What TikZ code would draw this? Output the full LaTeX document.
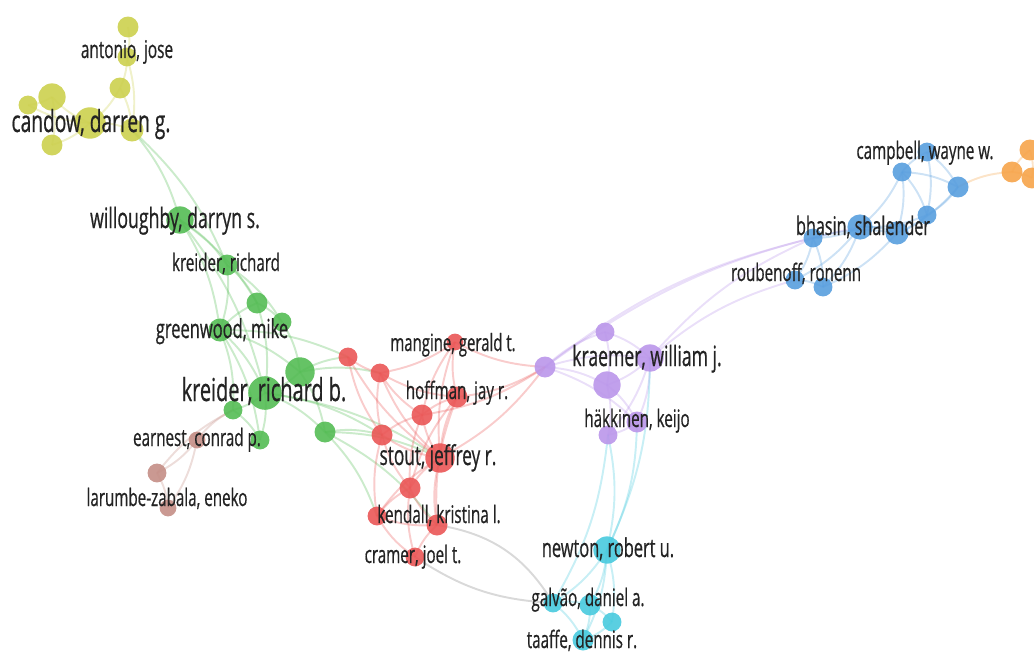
\documentclass[tikz,border=0pt]{standalone}
\usepackage{fontspec}
\setmainfont{Open Sans}[FakeStretch=0.63,FakeBold=0.6]
\usetikzlibrary{backgrounds}

\definecolor{cyel}{RGB}{204,208,78}
\definecolor{cgreen}{RGB}{84,188,84}
\definecolor{cbrown}{RGB}{196,142,134}
\definecolor{cred}{RGB}{234,86,86}
\definecolor{cpurp}{RGB}{186,150,234}
\definecolor{ccyan}{RGB}{72,202,222}
\definecolor{cblue}{RGB}{88,158,222}
\definecolor{corange}{RGB}{246,164,74}
\definecolor{ctext}{RGB}{35,35,35}

\tikzset{author/.style={circle,inner sep=0pt,minimum size=#1*0.42mm,fill opacity=0.9},
         link/.style={line width=1.1pt,draw opacity=0.3},
         lab/.style={font=\fontsize{#1}{#1}\selectfont,text=ctext,inner sep=0pt,anchor=base}}

\begin{document}
\begin{tikzpicture}[x=0.02cm,y=-0.02cm]
  \useasboundingbox (0,0) rectangle (1034,652);
  % authors: name/x/y/radius/colour
  \foreach \n/\x/\y/\r/\c in {ya/128/27/10/cyel,yb/127/57/9/cyel,yc/120/88/10/cyel,yd/52/97/13/cyel,
      ye/28/105/9/cyel,yf/90/123/15/cyel,yg/132/130/11/cyel,yh/52/145/10/cyel,
      wi/180/220/13/cgreen,kr/227/265/10/cgreen,ga/257/303/10/cgreen,gb/282/322/9/cgreen,
      gw/220/330/11/cgreen,gc/300/372/14/cgreen,kb/265/393/16/cgreen,gd/233/410/9/cgreen,
      ge/260/440/9/cgreen,gf/325/432/10/cgreen,
      ba/197/440/8/cbrown,bb/157/473/9/cbrown,bc/168/508/8/cbrown,
      ra/348/357/9/cred,rb/380/373/9/cred,mg/455/342/8/cred,hf/457/397/10/cred,rc/422/415/10/cred,
      rd/382/435/10/cred,st/440/458/14/cred,re/410/488/10/cred,rf/377/516/9/cred,
      kd/437/525/10/cred,cr/415/557/9/cred,
      pa/545/367/10/cpurp,pb/605/332/9/cpurp,kw/650/358/13/cpurp,pc/607/385/13/cpurp,
      hk/637/422/10/cpurp,pd/608/435/9/cpurp,
      nw/607/550/13/ccyan,ca/553/603/9/ccyan,gv/590/605/10/ccyan,cb/612/622/9/ccyan,tf/583/640/10/ccyan,
      ua/902/172/9/cblue,ub/927/152/9/cblue,uc/958/187/10/cblue,ud/927/215/9/cblue,
      bh/860/227/12/cblue,ue/897/233/11/cblue,uf/813/238/9/cblue,rn/795/280/9/cblue,ug/823/287/9/cblue,
      oa/1012/172/10/corange,ob/1030/150/10/corange,oc/1032/178/10/corange}
    \node[author=\r,fill=\c] (\n) at (\x,\y) {};

  \begin{scope}[on background layer]
    % co-authorship links
    \foreach \a/\b/\c in {ya/yb/cyel,yb/yc/cyel,yc/yf/cyel,yc/yg/cyel,yf/yd/cyel,yf/ye/cyel,yf/yh/cyel,
        yf/yg/cyel,yd/ye/cyel,yd/yh/cyel,yb/yg/cyel,yg/wi/cgreen,yg/kr/cgreen,
        wi/kr/cgreen,wi/ga/cgreen,wi/kb/cgreen,kr/ga/cgreen,kr/gw/cgreen,kr/gb/cgreen,ga/gb/cgreen,
        ga/kb/cgreen,gw/kb/cgreen,gw/gc/cgreen,gw/gd/cgreen,gw/ge/cgreen,gw/ga/cgreen,gb/gc/cgreen,
        gc/kb/cgreen,kb/gd/cgreen,kb/ge/cgreen,kb/gf/cgreen,gc/gf/cgreen,gd/ge/cgreen,wi/gw/cgreen,
        gc/ra/cgreen,gc/rb/cgreen,kb/rd/cgreen,gf/rd/cgreen,gf/st/cgreen,kb/st/cgreen,gw/ra/cgreen,
        gf/rf/cgreen,gf/kd/cgreen,
        ba/bb/cbrown,bb/bc/cbrown,ba/bc/cbrown,ba/gd/cbrown,bb/gd/cbrown}
      \draw[link,\c] (\a.center) to[bend left=12] (\b.center);
    \foreach \a/\b in {ra/rb,ra/st,rb/rd,rb/mg,rb/hf,rb/rc,rb/st,mg/hf,mg/rc,mg/st,hf/rc,hf/st,hf/re,
        rc/rd,rc/st,rc/re,rd/st,rd/re,rd/rf,st/re,st/kd,st/rf,re/rf,re/kd,re/cr,rf/kd,rf/cr,kd/cr,
        hf/kd,ra/rd,mg/pa,hf/pa,rc/pa,st/pa}
      \draw[link,cred] (\a.center) to[bend right=12] (\b.center);
    \draw[link,gray] (kd.center) to[bend left=25] (ca.center);
    \draw[link,gray] (cr.center) to[bend right=15] (ca.center);
    \foreach \a/\b/\c in {pa/pb/cpurp,pa/kw/cpurp,pa/pc/cpurp,pa/hk/cpurp,pb/kw/cpurp,pb/pc/cpurp,
        kw/pc/cpurp,kw/hk/cpurp,pc/pd/cpurp,pc/hk/cpurp,hk/pd/cpurp,kw/pd/cpurp,
        kw/uf/cpurp,kw/rn/cpurp,pa/bh/cpurp,pa/uf/cpurp,
        hk/nw/ccyan,pd/nw/ccyan,kw/nw/ccyan,pd/ca/ccyan,
        nw/ca/ccyan,nw/gv/ccyan,nw/cb/ccyan,nw/tf/ccyan,ca/gv/ccyan,ca/tf/ccyan,gv/cb/ccyan,
        gv/tf/ccyan,cb/tf/ccyan,
        ua/ub/cblue,ua/uc/cblue,ua/ud/cblue,ua/bh/cblue,ua/ue/cblue,ub/uc/cblue,ub/ud/cblue,
        uc/ud/cblue,uc/ue/cblue,ud/bh/cblue,ud/ue/cblue,bh/ue/cblue,bh/uf/cblue,bh/rn/cblue,
        bh/ug/cblue,uf/rn/cblue,uf/ug/cblue,rn/ug/cblue,ue/ug/cblue,uf/ue/cblue,
        uc/oa/corange,oa/ob/corange,oa/oc/corange,ob/oc/corange}
      \draw[link,\c] (\a.center) to[bend left=12] (\b.center);
  \end{scope}

  % labels (at their baselines)
  \node[lab=17.3pt] (lcandow) at (91,132) {candow, darren g.};
  \node[lab=13.9pt] (lantonio) at (127,58) {antonio, jose};
  \node[lab=16pt] (lwillo) at (175,228) {willoughby, darryn s.};
  \node[lab=13.7pt] (lkreider) at (226,271) {kreider, richard};
  \node[lab=14.9pt] (lgreen) at (222,338) {greenwood, mike};
  \node[lab=18pt] (lkreiderb) at (264,401) {kreider, richard b.};
  \node[lab=13.7pt] (learnest) at (197,446) {earnest, conrad p.};
  \node[lab=13.7pt] (llarumbe) at (167,506) {larumbe-zabala, eneko};
  \node[lab=13.5pt] (lmangine) at (453,351) {mangine, gerald t.};
  \node[lab=13.7pt] (lhoffman) at (457,399) {hoffman, jay r.};
  \node[lab=15.6pt] (lstout) at (438,465) {stout, jeffrey r.};
  \node[lab=13.8pt] (lkendall) at (439,523) {kendall, kristina l.};
  \node[lab=13.7pt] (lcramer) at (413,563) {cramer, joel t.};
  \node[lab=15.9pt] (lkraemer) at (647,366) {kraemer, william j.};
  \node[lab=13.7pt] (lhakk) at (637,427) {häkkinen, keijo};
  \node[lab=14.8pt] (lnewton) at (608,557) {newton, robert u.};
  \node[lab=13.7pt] (lgalvao) at (588,606) {galvão, daniel a.};
  \node[lab=13.7pt] (ltaaffe) at (582,648) {taaffe, dennis r.};
  \node[lab=14.6pt] (lbhasin) at (863,235) {bhasin, shalender};
  \node[lab=13.7pt] (lroub) at (796,281) {roubenoff, ronenn};
  \node[lab=13.7pt] (lcamp) at (925,159) {campbell, wayne w.};
\end{tikzpicture}
\end{document}
